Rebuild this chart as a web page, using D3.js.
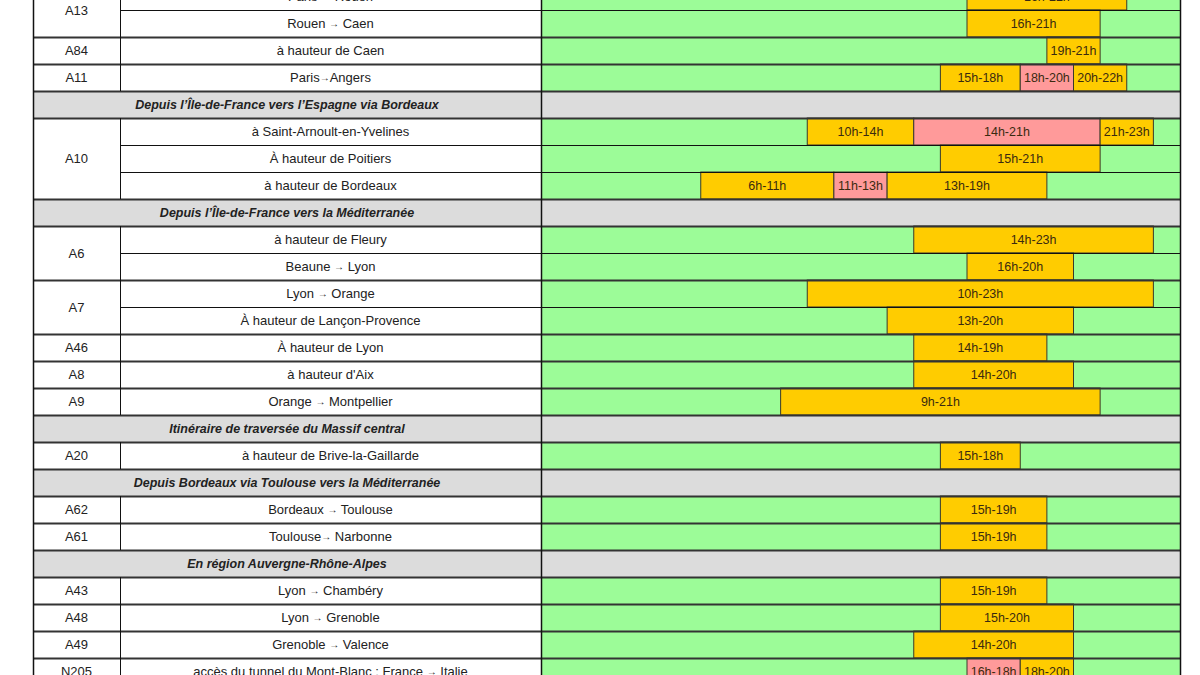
<!DOCTYPE html>
<html>
<head>
<meta charset="utf-8">
<script src="https://cdn.jsdelivr.net/npm/d3@7"></script>
<style>
html,body{margin:0;padding:0;background:#fff;}
svg{display:block;}
</style>
</head>
<body>
<svg id="chart" width="1200" height="675"></svg>
<script>
// ---- data ----
const roadCodes = ["A13","A13","A84","A11","",
  "A10","A10","A10","",
  "A6","A6","A7","A7","A46","A8","A9","",
  "A20","",
  "A62","A61","",
  "A43","A48","A49","N205"];
const descriptions = [
  "Paris → Rouen","Rouen → Caen","à hauteur de Caen","Paris→Angers",
  "Depuis l’Île-de-France vers l’Espagne via Bordeaux",
  "à Saint-Arnoult-en-Yvelines","À hauteur de Poitiers","à hauteur de Bordeaux",
  "Depuis l’Île-de-France vers la Méditerranée",
  "à hauteur de Fleury","Beaune → Lyon","Lyon → Orange","À hauteur de Lançon-Provence",
  "À hauteur de Lyon","à hauteur d'Aix","Orange → Montpellier",
  "Itinéraire de traversée du Massif central",
  "à hauteur de Brive-la-Gaillarde",
  "Depuis Bordeaux via Toulouse vers la Méditerranée",
  "Bordeaux → Toulouse","Toulouse→ Narbonne",
  "En région Auvergne-Rhône-Alpes",
  "Lyon → Chambéry","Lyon → Grenoble","Grenoble → Valence",
  "accès du tunnel du Mont-Blanc : France → Italie"];
// [rowIndex, startHour, endHour, level]
const periods = [
  [0,16,22,"orange"],
  [1,16,21,"orange"],
  [2,19,21,"orange"],
  [3,15,18,"orange"],[3,18,20,"red"],[3,20,22,"orange"],
  [5,10,14,"orange"],[5,14,21,"red"],[5,21,23,"orange"],
  [6,15,21,"orange"],
  [7,6,11,"orange"],[7,11,13,"red"],[7,13,19,"orange"],
  [9,14,23,"orange"],
  [10,16,20,"orange"],
  [11,10,23,"orange"],
  [12,13,20,"orange"],
  [13,14,19,"orange"],
  [14,14,20,"orange"],
  [15,9,21,"orange"],
  [17,15,18,"orange"],
  [19,15,19,"orange"],
  [20,15,19,"orange"],
  [22,15,19,"orange"],
  [23,15,20,"orange"],
  [24,14,20,"orange"],
  [25,16,18,"red"],[25,18,20,"orange"]
];
const hourDomain = [0, 24];

// ---- layout ----
const colors = {green:"#9cfc98", orange:"#ffcc00", red:"#ff9a9a", header:"#dcdcdc"};
const xLeft = 33, xRoad = 120, xChart = 541, xRight = 1180;
const svg = d3.select("#chart");
const nRows = roadCodes.length;
const y = d3.scaleBand().domain(d3.range(nRows)).range([-17, -17 + 27*nRows]).padding(0);
const x = d3.scaleLinear().domain(hourDomain).range([xChart, xRight]);
const isHeader = i => roadCodes[i] === "";
const font = "'Liberation Sans', Arial, sans-serif";

// backgrounds
const rows = d3.range(nRows);
svg.append("g").selectAll("rect.bg").data(rows).join("rect")
  .attr("x", i => isHeader(i) ? xLeft : xChart)
  .attr("y", i => y(i))
  .attr("width", i => isHeader(i) ? xRight - xLeft : xRight - xChart)
  .attr("height", y.bandwidth())
  .attr("fill", i => isHeader(i) ? colors.header : colors.green);

// period segments
const seg = svg.append("g").selectAll("g").data(periods).join("g");
seg.append("rect")
  .attr("x", d => x(d[1]))
  .attr("y", d => y(d[0]))
  .attr("width", d => x(d[2]) - x(d[1]))
  .attr("height", y.bandwidth())
  .attr("fill", d => colors[d[3]])
  .attr("stroke", "#3a3a2a").attr("stroke-width", 1);
seg.append("text")
  .attr("x", d => (x(d[1]) + x(d[2])) / 2)
  .attr("y", d => y(d[0]) + y.bandwidth()/2)
  .attr("dy", "0.36em")
  .attr("text-anchor", "middle")
  .attr("font-family", font).attr("font-size", "12.5px")
  .attr("fill", "#3a2a10")
  .text(d => d[1] + "h-" + d[2] + "h");

// horizontal lines
const lines = svg.append("g");
for (let i = 0; i <= nRows; i++) {
  const yy = i < nRows ? y(i) : y(nRows-1) + y.bandwidth();
  const prev = roadCodes[i-1], cur = roadCodes[i];
  const sameRoad = i > 0 && i < nRows && prev !== "" && prev === cur;
  if (sameRoad) {
    lines.append("line").attr("x1", xRoad).attr("x2", xRight)
      .attr("y1", yy + 0.5).attr("y2", yy + 0.5)
      .attr("stroke", "#111").attr("stroke-width", 1);
  } else {
    lines.append("line").attr("x1", xLeft).attr("x2", xRight)
      .attr("y1", yy + 0.5).attr("y2", yy + 0.5)
      .attr("stroke", "#333").attr("stroke-width", 2);
  }
}
// vertical lines
const yTop = y(0), yBot = y(nRows-1) + y.bandwidth();
[xLeft, xChart, xRight].forEach(xx => {
  lines.append("line").attr("x1", xx + 0.5).attr("x2", xx + 0.5)
    .attr("y1", yTop).attr("y2", yBot).attr("stroke", "#111").attr("stroke-width", 1.5);
});
rows.filter(i => !isHeader(i)).forEach(i => {
  lines.append("line").attr("x1", xRoad + 0.5).attr("x2", xRoad + 0.5)
    .attr("y1", y(i)).attr("y2", y(i) + y.bandwidth()).attr("stroke", "#111").attr("stroke-width", 1);
});

// road code labels (merged cells)
const groups = [];
rows.forEach(i => {
  if (isHeader(i)) return;
  const last = groups[groups.length-1];
  if (last && last.code === roadCodes[i] && last.end === i-1) last.end = i;
  else groups.push({code: roadCodes[i], start: i, end: i});
});
svg.append("g").selectAll("text").data(groups).join("text")
  .attr("x", (xLeft + xRoad)/2)
  .attr("y", g => (y(g.start) + y(g.end) + y.bandwidth())/2)
  .attr("dy", "0.36em").attr("text-anchor", "middle")
  .attr("font-family", font).attr("font-size", "13px").attr("fill", "#222")
  .text(g => g.code);

// descriptions and headers
const desc = svg.append("g").selectAll("text").data(rows).join("text")
  .attr("x", i => isHeader(i) ? (xLeft + xChart)/2 : (xRoad + xChart)/2)
  .attr("y", i => y(i) + y.bandwidth()/2)
  .attr("dy", "0.36em").attr("text-anchor", "middle")
  .attr("font-family", font)
  .attr("font-size", i => isHeader(i) ? "12.5px" : "13px")
  .attr("font-weight", i => isHeader(i) ? "bold" : "normal")
  .attr("font-style", i => isHeader(i) ? "italic" : "normal")
  .attr("fill", "#222");
desc.each(function(i) {
  const t = d3.select(this);
  const parts = descriptions[i].split("→");
  parts.forEach((p, k) => {
    if (k > 0) t.append("tspan").attr("font-size", "10px").attr("dy", "-1").text("→")
      .call(s => s);
    if (k > 0) t.append("tspan").attr("dy", "1").text(p);
    else t.append("tspan").text(p);
  });
});
</script>
</body>
</html>
